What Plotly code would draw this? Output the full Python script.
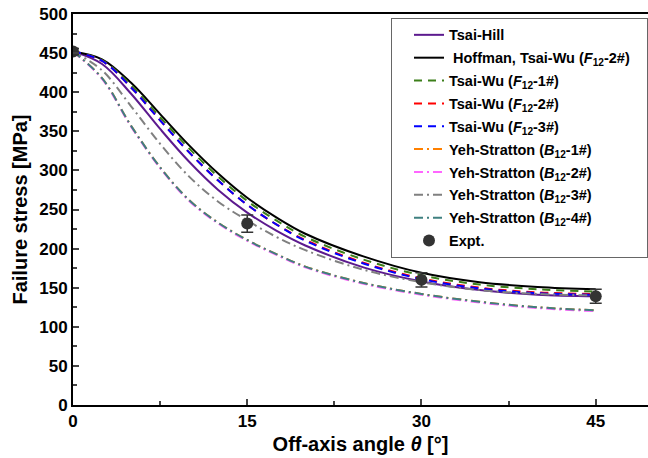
import plotly.graph_objects as go

angles = [0, 2.5, 5, 7.5, 10, 12.5, 15, 17.5, 20, 25, 30, 35, 40, 45]

tsai_hill = [452, 436, 398, 353, 311, 275, 246, 223, 204, 176, 158, 147, 141, 139]
hoffman = [452, 442, 412, 372, 332, 296, 265, 240, 219, 190, 169, 157, 151, 148]
tw_f1 = [452, 441, 409, 368, 328, 292, 261, 236, 215, 186, 166, 154, 148, 145]
tw_f2 = [452, 440, 406, 364, 323, 287, 256, 231, 211, 182, 162, 150, 144, 142]
tw_f3 = [452, 440, 406, 364, 323, 287, 256, 231, 210, 181, 161, 149, 143, 141]
ys_b1 = [452, 418, 357, 304, 262, 233, 211, 193, 177, 156, 142, 132, 125, 121]
ys_b2 = [452, 417, 356, 303, 261, 232, 210, 192, 176, 155, 141, 131, 124, 120]
ys_b3 = [452, 428, 382, 334, 292, 260, 236, 215, 198, 173, 157, 147, 142, 140]
ys_b4 = [452, 418, 357, 304, 262, 233, 211, 193, 177, 156, 142, 132, 125, 121]

expt_x = [0, 15, 30, 45]
expt_y = [452, 232, 160, 139]
expt_err = [4, 11, 9, 9]

x_ticks = [0, 15, 30, 45]
y_ticks = [0, 50, 100, 150, 200, 250, 300, 350, 400, 450, 500]

series = [
    ("Tsai-Hill", tsai_hill, "#5C1A8E", "solid"),
    ("\u00a0Hoffman, Tsai-Wu (<i>F</i><sub>12</sub>-2#)\u00a0\u00a0\u00a0", hoffman, "#000000", "solid"),
    ("Tsai-Wu (<i>F</i><sub>12</sub>-1#)", tw_f1, "#3C7F1A", "8px,6px"),
    ("Tsai-Wu (<i>F</i><sub>12</sub>-2#)", tw_f2, "#FF0000", "8px,6px"),
    ("Tsai-Wu (<i>F</i><sub>12</sub>-3#)", tw_f3, "#0000FF", "8px,6px"),
    ("Yeh-Stratton (<i>B</i><sub>12</sub>-1#)", ys_b1, "#FF8000", "9px,4px,2px,4px"),
    ("Yeh-Stratton (<i>B</i><sub>12</sub>-2#)", ys_b2, "#FF66FF", "9px,4px,2px,4px"),
    ("Yeh-Stratton (<i>B</i><sub>12</sub>-3#)", ys_b3, "#808080", "9px,4px,2px,4px"),
    ("Yeh-Stratton (<i>B</i><sub>12</sub>-4#)", ys_b4, "#3F8080", "9px,4px,2px,4px"),
]

fig = go.Figure()
for i, (name, vals, col, dash) in enumerate(series):
    fig.add_trace(go.Scatter(
        x=angles, y=vals, mode="lines", name=name,
        line=dict(color=col, width=2, dash=dash, shape="spline", smoothing=1.0),
        legendgroup=f"g{i}",
    ))

fig.add_trace(go.Scatter(
    x=expt_x, y=expt_y, mode="markers", name="Expt.",
    marker=dict(color="#333333", size=12),
    error_y=dict(type="data", array=expt_err, color="#333333", thickness=1.5, width=6),
    legendgroup="g9",
))

fig.update_layout(
    width=648, height=458,
    margin=dict(l=73, r=0, t=14, b=53, autoexpand=False),
    plot_bgcolor="white", paper_bgcolor="white",
    font=dict(family="Liberation Sans, Arial, sans-serif", size=14, color="#000000", weight="bold"),
    showlegend=True,
    legend=dict(
        x=(391 - 73) / 575, y=0.99, xanchor="left", yanchor="top",
        bordercolor="#666666", borderwidth=1, bgcolor="white",
        font=dict(size=14.5, weight="bold"),
        tracegroupgap=1, traceorder="grouped",
        itemwidth=30, indentation=17,
    ),
)

fig.update_xaxes(
    range=[0, 49.5], tickvals=x_ticks, ticks="inside", ticklen=6, tickwidth=2,
    showline=True, linewidth=2, linecolor="black", mirror=True,
    showgrid=False, zeroline=False, automargin=False,
    tickfont=dict(size=17, weight="bold"),
    minor=dict(dtick=7.5, tick0=0, ticks="inside", ticklen=4, tickwidth=1.5, showgrid=False),
    title=dict(text="Off-axis angle <i>θ</i> [°]", font=dict(size=20, weight="bold"), standoff=7),
)
fig.update_yaxes(
    range=[0, 500], tickvals=y_ticks, ticks="inside", ticklen=6, tickwidth=2,
    showline=True, linewidth=2, linecolor="black", mirror=False,
    showgrid=False, zeroline=False, automargin=False,
    tickfont=dict(size=17, weight="bold"),
    minor=dict(dtick=25, tick0=0, ticks="inside", ticklen=4, tickwidth=1.5, showgrid=False),
    title=dict(text="Failure stress [MPa]", font=dict(size=20, weight="bold"), standoff=6),
)

fig.write_html(
    "out.html",
    config={"displayModeBar": False},
    post_script="document.body.style.margin='0';document.body.style.overflow='hidden';",
)
